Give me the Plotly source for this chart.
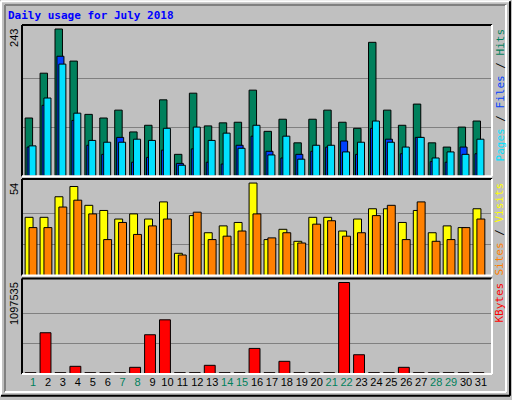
import plotly.graph_objects as go

days = list(range(1, 32))
weekend = [1, 7, 8, 14, 15, 21, 22, 28, 29]

hits = [96, 170, 243, 190, 102, 96, 109, 73, 84, 126, 36, 137, 83, 88, 89, 142,
        74, 94, 55, 94, 109, 89, 79, 221, 109, 84, 119, 55, 48, 81, 91]
files = [48, 117, 198, 92, 51, 36, 64, 23, 31, 43, 21, 45, 23, 20, 51, 66,
         41, 30, 36, 41, 48, 58, 36, 79, 61, 37, 64, 24, 23, 48, 37]
pages = [50, 129, 185, 104, 59, 56, 56, 61, 59, 79, 18, 81, 59, 71, 46, 84,
         35, 66, 28, 51, 51, 40, 56, 91, 56, 48, 64, 30, 40, 36, 61]
visits = [34, 34, 46, 52, 41, 38, 33, 36, 33, 43, 13, 35, 25, 29, 31, 54,
          21, 27, 20, 34, 34, 26, 33, 39, 39, 31, 38, 25, 29, 28, 39]
sites = [28, 28, 40, 44, 36, 21, 31, 24, 29, 33, 12, 37, 21, 23, 26, 36,
         22, 25, 19, 30, 32, 23, 25, 35, 41, 21, 43, 20, 21, 28, 33]
kbytes = [16000, 495000, 16000, 92000, 16000, 16000, 16000, 80000, 471000, 650000,
          16000, 16000, 104000, 16000, 16000, 307000, 16000, 152000, 16000, 16000, 16000,
          1097535, 231000, 16000, 16000, 80000, 16000, 16000, 16000, 16000, 16000]

BG = "#C0C0C0"
W, H = 512, 400
L, R, T, B = 22, 20, 25, 24
pw, ph = W - L - R, H - T - B


def px(x):
    return (x - L) / pw


def py(y):
    return (H - B - y) / ph


fig = go.Figure()


def bar(y, color, off, wid, ax):
    fig.add_trace(go.Bar(x=days, y=y, offset=off, width=wid, marker_color=color,
                         marker_line=dict(color="black", width=1),
                         xaxis=ax[0], yaxis=ax[1], showlegend=False))


bar(hits, "#00805C", -0.53, 0.5, ("x", "y"))
bar(files, "#0040FF", -0.4, 0.47, ("x", "y"))
bar(pages, "#00E0FF", -0.27, 0.47, ("x", "y"))
bar(visits, "#FFFF00", -0.53, 0.53, ("x2", "y2"))
bar(sites, "#FF8000", -0.27, 0.53, ("x2", "y2"))
bar(kbytes, "#FF0000", -0.53, 0.73, ("x3", "y3"))

ticktext = [f'<span style="color:{"#00805C" if d in weekend else "black"}">{d}</span>'
            for d in days]
xr = [0.26, 31.74]
xcommon = dict(range=xr, showgrid=False, zeroline=False, fixedrange=True)
ycommon = dict(showticklabels=False, zeroline=False, gridcolor="#808080",
               gridwidth=1, ticks="")

fig.update_layout(
    width=W, height=H, paper_bgcolor=BG, plot_bgcolor=BG,
    margin=dict(l=L, r=R, t=T, b=B), barmode="overlay",
    xaxis=dict(**xcommon, anchor="y", showticklabels=False),
    xaxis2=dict(**xcommon, anchor="y2", showticklabels=False, matches="x"),
    xaxis3=dict(**xcommon, anchor="y3", matches="x", tickvals=days, ticktext=ticktext,
                ticks="", tickfont=dict(family="Liberation Sans", size=11)),
    yaxis=dict(**ycommon, domain=[py(177), 1], range=[0, 249.6], tickvals=[81, 162]),
    yaxis2=dict(**ycommon, domain=[py(277), py(180)], range=[0, 56.3], tickvals=[18, 36]),
    yaxis3=dict(**ycommon, domain=[0, py(280)], range=[0, 1145000],
                tickvals=[365845, 731690]),
    font=dict(family="Liberation Sans", size=11, color="black"),
)

shapes = []


def bevel(x0, y0, x1, y1, tl, br):
    shapes.append(dict(type="line", xref="paper", yref="paper", x0=px(x0), x1=px(x1),
                       y0=py(y0), y1=py(y0), line=dict(color=tl, width=2)))
    shapes.append(dict(type="line", xref="paper", yref="paper", x0=px(x0), x1=px(x0),
                       y0=py(y0), y1=py(y1), line=dict(color=tl, width=2)))
    shapes.append(dict(type="line", xref="paper", yref="paper", x0=px(x0), x1=px(x1),
                       y0=py(y1), y1=py(y1), line=dict(color=br, width=2)))
    shapes.append(dict(type="line", xref="paper", yref="paper", x0=px(x1), x1=px(x1),
                       y0=py(y0), y1=py(y1), line=dict(color=br, width=2)))


bevel(1, 1, 510, 398, "white", "black")
bevel(5, 5, 506, 394, "#808080", "white")
for top, bot in [(25, 177), (180, 277), (280, 376)]:
    bevel(L, top, W - R, bot, "black", "white")
fig.update_layout(shapes=shapes)

ann = [dict(text="<b>Daily usage for July 2018</b>", x=px(6), y=py(7), xanchor="left",
            yanchor="top", font=dict(family="DejaVu Sans Mono", size=11, color="#0000FF"))]
for label, top in [("243", 25), ("54", 180), ("1097535", 280)]:
    ann.append(dict(text=label, textangle=-90, x=px(14), y=py(top + 2), xanchor="center",
                    yanchor="top", font=dict(family="Liberation Sans", size=11)))
mono = dict(family="DejaVu Sans Mono", size=11)
right = [
    ('<span style="color:#00E0FF">Pages</span> / <span style="color:#0040FF">Files</span>'
     ' / <span style="color:#00805C">Hits</span>', 25),
    ('<span style="color:#FF8000">Sites</span> / <span style="color:#FFFF00">Visits</span>', 180),
    ('<span style="color:#FF0000">KBytes</span>', 280),
]
for label, top in right:
    ann.append(dict(text=label, textangle=-90, x=px(500), y=py(top + 2), xanchor="center",
                    yanchor="top", font=mono))
for a in ann:
    a.update(xref="paper", yref="paper", showarrow=False)
fig.update_layout(annotations=ann)

fig.write_html("out.html", config={"displayModeBar": False},
               post_script="document.body.style.margin='0';")
